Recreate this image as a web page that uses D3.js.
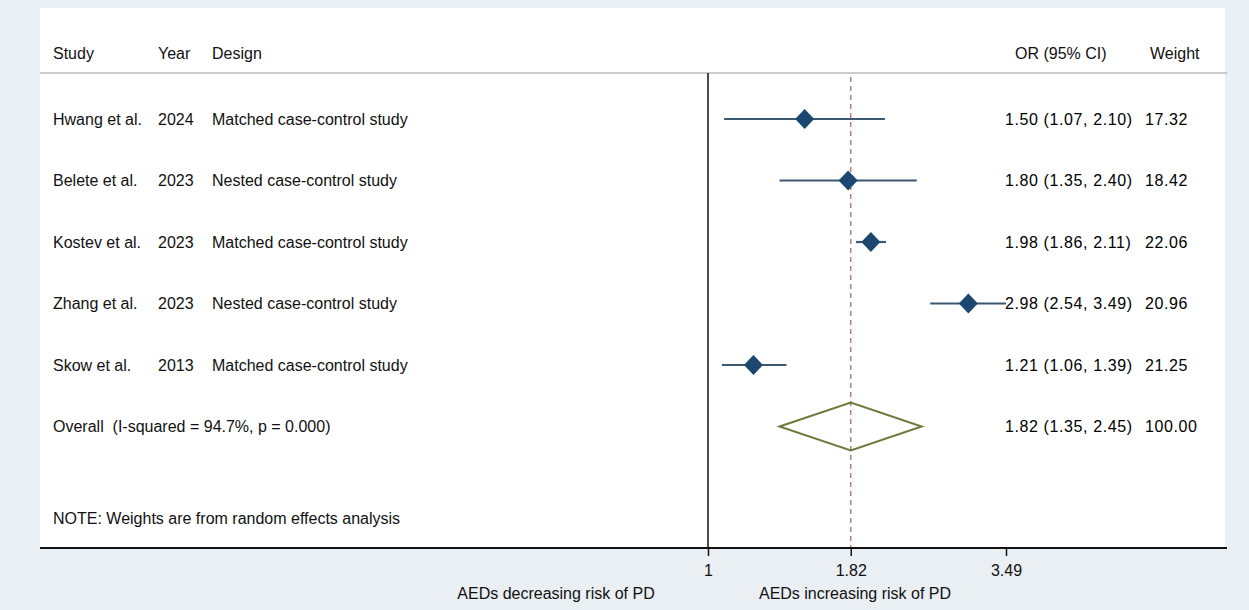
<!DOCTYPE html>
<html>
<head>
<meta charset="utf-8">
<script src="https://cdn.jsdelivr.net/npm/d3@7"></script>
<style>
  html, body { margin: 0; padding: 0; background: #eaeff3; }
  svg { display: block; }
  text { font-family: "Liberation Sans", Arial, sans-serif; font-size: 16px; fill: #111; white-space: pre; }
  text.val { fill: #000; letter-spacing: 0.6px; }
</style>
</head>
<body>
<svg id="chart" width="1249" height="610"></svg>
<script>
// ---- data ----
const studies = ["Hwang et al.", "Belete et al.", "Kostev et al.", "Zhang et al.", "Skow et al."];
const years = ["2024", "2023", "2023", "2023", "2013"];
const designs = ["Matched case-control study", "Nested case-control study", "Matched case-control study", "Nested case-control study", "Matched case-control study"];
const orValues = [1.50, 1.80, 1.98, 2.98, 1.21];
const ciLow = [1.07, 1.35, 1.86, 2.54, 1.06];
const ciHigh = [2.10, 2.40, 2.11, 3.49, 1.39];
const weights = [17.32, 18.42, 22.06, 20.96, 21.25];
const overall = { or: 1.82, low: 1.35, high: 2.45, weight: 100.00, label: "Overall  (I-squared = 94.7%, p = 0.000)" };
const xTicks = [1, 1.82, 3.49];
const headers = ["Study", "Year", "Design", "OR (95% CI)", "Weight"];
const note = "NOTE: Weights are from random effects analysis";
const sideLabels = ["AEDs decreasing risk of PD", "AEDs increasing risk of PD"];

// ---- layout ----
const svg = d3.select("#chart");
const panel = { x0: 40, x1: 1225, y0: 8, y1: 548 };
const headerY = 53, headerLineY = 73;
const rowY = d3.scaleLinear().domain([0, 1]).range([119, 180.5]);
const overallY = rowY(5);
const noteY = 518;

const x = d3.scaleLog().domain([1, 3.49]).range([708, 1006]);

// white panel
svg.append("rect").attr("x", panel.x0).attr("y", panel.y0)
  .attr("width", panel.x1 - panel.x0).attr("height", panel.y1 - panel.y0)
  .attr("fill", "#ffffff");

// header line
svg.append("line").attr("x1", panel.x0).attr("x2", panel.x1 + 2)
  .attr("y1", headerLineY).attr("y2", headerLineY)
  .attr("stroke", "#9a9a9a").attr("stroke-width", 1.2);

// headers
const colX = [53, 158, 212, 1015, 1150];
const valX = [53, 158, 212, 1005, 1145];
headers.forEach((h, i) => {
  svg.append("text").attr("x", colX[i]).attr("y", headerY).attr("dy", "0.35em").text(h);
});

// null line
svg.append("line").attr("x1", x(1)).attr("x2", x(1))
  .attr("y1", headerLineY).attr("y2", panel.y1)
  .attr("stroke", "#111").attr("stroke-width", 1.5);

// overall dashed line
svg.append("line").attr("x1", x(overall.or)).attr("x2", x(overall.or))
  .attr("y1", headerLineY + 4).attr("y2", panel.y1)
  .attr("stroke", "#a86a6a").attr("stroke-width", 1.3)
  .attr("stroke-dasharray", "5,4");

// study rows
const fmt = d3.format(".2f");
studies.forEach((s, i) => {
  const y = rowY(i);
  svg.append("text").attr("x", valX[0]).attr("y", y).attr("dy", "0.35em").text(s);
  svg.append("text").attr("x", valX[1]).attr("y", y).attr("dy", "0.35em").text(years[i]);
  svg.append("text").attr("x", valX[2]).attr("y", y).attr("dy", "0.35em").text(designs[i]);
  svg.append("text").attr("class", "val").attr("x", valX[3]).attr("y", y).attr("dy", "0.35em")
    .text(`${fmt(orValues[i])} (${fmt(ciLow[i])}, ${fmt(ciHigh[i])})`);
  svg.append("text").attr("class", "val").attr("x", valX[4]).attr("y", y).attr("dy", "0.35em").text(fmt(weights[i]));

  // CI line
  svg.append("line").attr("x1", x(ciLow[i])).attr("x2", x(ciHigh[i]))
    .attr("y1", y).attr("y2", y)
    .attr("stroke", "#3d5872").attr("stroke-width", 2.2);
  // diamond marker
  const hw = 9.5, hh = 10;
  const cx = x(orValues[i]);
  svg.append("path")
    .attr("d", `M${cx - hw},${y} L${cx},${y - hh} L${cx + hw},${y} L${cx},${y + hh} Z`)
    .attr("fill", "#1b4770");
});

// overall row
svg.append("text").attr("x", valX[0]).attr("y", overallY).attr("dy", "0.35em").text(overall.label);
svg.append("text").attr("class", "val").attr("x", valX[3]).attr("y", overallY).attr("dy", "0.35em")
  .text(`${fmt(overall.or)} (${fmt(overall.low)}, ${fmt(overall.high)})`);
svg.append("text").attr("class", "val").attr("x", valX[4]).attr("y", overallY).attr("dy", "0.35em").text(fmt(overall.weight));
const oh = 24;
svg.append("path")
  .attr("d", `M${x(overall.low)},${overallY} L${x(overall.or)},${overallY - oh} L${x(overall.high)},${overallY} L${x(overall.or)},${overallY + oh} Z`)
  .attr("fill", "none").attr("stroke", "#6e7a3c").attr("stroke-width", 2);

// note
svg.append("text").attr("x", valX[0]).attr("y", noteY).attr("dy", "0.35em").text(note);

// axis line
svg.append("line").attr("x1", panel.x0).attr("x2", panel.x1 + 2)
  .attr("y1", panel.y1).attr("y2", panel.y1)
  .attr("stroke", "#111").attr("stroke-width", 1.8);

const axis = d3.axisBottom(x).tickValues(xTicks).tickFormat(d => String(d)).tickSize(8).tickPadding(9);
const gAxis = svg.append("g").attr("transform", `translate(0,${panel.y1})`).call(axis);
gAxis.select(".domain").remove();
gAxis.selectAll(".tick line").attr("stroke", "#111").attr("stroke-width", 1.5);
gAxis.selectAll(".tick text").style("font-size", "16px").attr("fill", "#111")
  .style("font-family", '"Liberation Sans", Arial, sans-serif');

// side labels
svg.append("text").attr("x", 556).attr("y", 593).attr("dy", "0.35em")
  .attr("text-anchor", "middle").text(sideLabels[0]);
svg.append("text").attr("x", 855).attr("y", 593).attr("dy", "0.35em")
  .attr("text-anchor", "middle").text(sideLabels[1]);
</script>
</body>
</html>
